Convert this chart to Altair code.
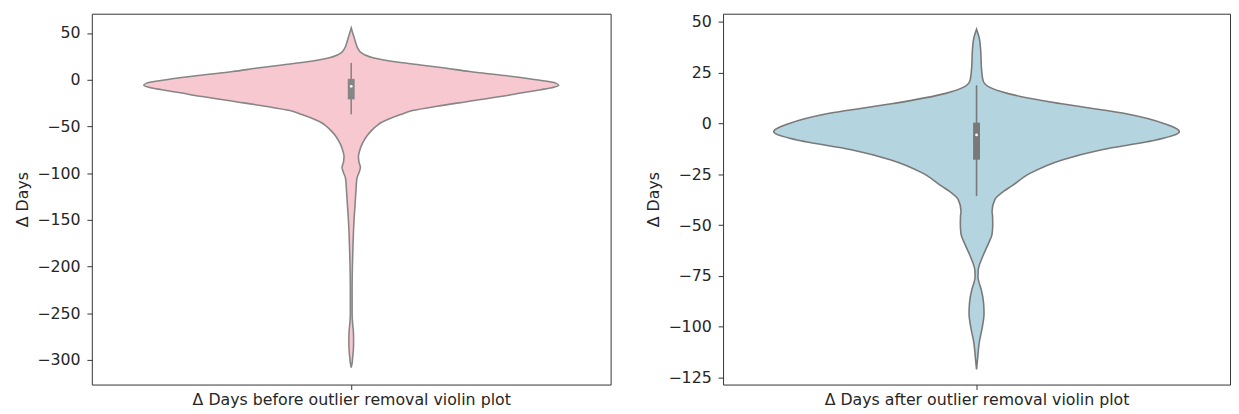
import altair as alt
import pandas as pd

# ---- data ----
# Violin outlines: y value (days) and half-width (widest point = max)
before_days = [55.5, 50, 44, 38, 33.5, 29, 26.5, 23.5, 21.2, 18.5, 15.9, 12.5, 8.8, 4.5, 0,
               -3.6, -6, -8.5, -10.6, -14, -17.7, -23, -28.3, -33, -37.2, -42, -46, -50, -55,
               -60, -65.5, -70, -76, -82, -88, -94, -99, -104.5, -110, -115, -125, -135, -147,
               -164, -180, -200, -225, -250, -262, -270, -280, -290, -298, -304, -308]
before_halfwidth_px = [0, 1.5, 3.3, 5, 6.7, 10, 14, 22, 33, 50, 70, 95, 120, 155, 187,
                       207, 210, 203, 192, 173, 153, 120, 87, 62, 50, 38, 30, 25, 20,
                       16, 12.7, 10.5, 8.5, 7.3, 7.8, 9.3, 8, 6, 5.3, 5, 4.4, 3.8, 3,
                       2.2, 1.7, 1.2, 0.9, 0.9, 1.5, 2.2, 2.4, 2.1, 1.4, 0.8, 0]

after_days = [46.4, 42.3, 35.8, 27.7, 21.2, 18, 14.7, 9.8, 4.9, 0, -4, -8, -12.9, -17.8,
              -24.3, -30.8, -33.3, -37.3, -43, -45.5, -49.5, -54.4, -59.3, -65.8, -72.3,
              -75.6, -78, -82, -88.5, -93.4, -100, -108, -114.6, -121]
after_halfwidth_px = [0, 2.7, 4.3, 5, 6.7, 12.7, 32.7, 86, 153, 193, 209, 186, 129, 89,
                      56, 36, 28, 19, 16, 16.5, 16.7, 16, 12, 6, 1.7,
                      1.5, 2.5, 5, 7.3, 7.7, 6, 2.7, 1.3, 0]

# box statistics: lower whisker, q1, median, q3, upper whisker
before_stats = [-37, -21, -7, 1, 18]
after_stats = [-35.7, -17.8, -5.6, 0.4, 18.8]

before_ticks = [-300, -250, -200, -150, -100, -50, 0, 50]
after_ticks = [-125, -100, -75, -50, -25, 0, 25, 50]

FONT = "DejaVu Sans"
TXT = "#262626"


def panel(days, hw, stats, fill, edge, domain, ticks, xtitle, width):
    mx = max(hw)
    df = pd.DataFrame({"days": days, "dens": [v / mx for v in hw]})
    sdf = pd.DataFrame({"lo": [stats[0]], "q1": [stats[1]], "med": [stats[2]],
                        "q3": [stats[3]], "hi": [stats[4]], "pos": [0.0]})
    yscale = alt.Scale(domain=domain, nice=False, zero=False)
    xscale = alt.Scale(domain=[-0.5, 0.5], nice=False, zero=False)
    yaxis = alt.Axis(values=ticks, title="Δ Days", titlePadding=6)
    xaxis = alt.Axis(values=[0], labels=False, title=xtitle, titlePadding=2)

    violin = alt.Chart(df).transform_calculate(
        left="-0.4*datum.dens", right="0.4*datum.dens"
    ).mark_area(
        orient="horizontal", interpolate="monotone", fill=fill, stroke=edge,
        strokeWidth=1.6, opacity=1
    ).encode(
        y=alt.Y("days:Q", scale=yscale, axis=yaxis),
        x=alt.X("left:Q", scale=xscale, axis=xaxis),
        x2="right:Q",
    )
    whisker = alt.Chart(sdf).mark_rule(color=edge, strokeWidth=1.6).encode(
        x=alt.X("pos:Q", scale=xscale, axis=xaxis),
        y=alt.Y("lo:Q", scale=yscale, axis=yaxis),
        y2="hi:Q",
    )
    box = alt.Chart(sdf).mark_rule(color=edge, strokeWidth=7, strokeCap="butt").encode(
        x=alt.X("pos:Q", scale=xscale, axis=xaxis),
        y=alt.Y("q1:Q", scale=yscale, axis=yaxis),
        y2="q3:Q",
    )
    med = alt.Chart(sdf).mark_point(filled=True, color="white", size=8, opacity=1).encode(
        x=alt.X("pos:Q", scale=xscale, axis=xaxis),
        y=alt.Y("med:Q", scale=yscale, axis=yaxis),
    )
    return alt.layer(violin, whisker, box, med).properties(width=width, height=376)


left = panel(before_days, before_halfwidth_px, before_stats, "#f7c8d0", "#868686",
             [-326.3, 70.7], before_ticks, "Δ Days before outlier removal violin plot", 526)
right = panel(after_days, after_halfwidth_px, after_stats, "#b4d4df", "#797979",
              [-128.4, 54.0], after_ticks, "Δ Days after outlier removal violin plot", 514)

chart = alt.hconcat(left, right, spacing=34).properties(
    padding={"left": 6, "top": 2, "right": 0, "bottom": 0}
).configure_view(
    stroke="#333333", strokeWidth=1
).configure_axis(
    domain=False, grid=False, tickColor="#333333", tickSize=5, tickWidth=1,
    labelFont=FONT, labelFontSize=16, labelColor=TXT, labelPadding=7,
    titleFont=FONT, titleFontSize=16, titleFontWeight="normal", titleColor=TXT,
)

chart.save("out.html", embed_options={"renderer": "svg", "actions": False})
